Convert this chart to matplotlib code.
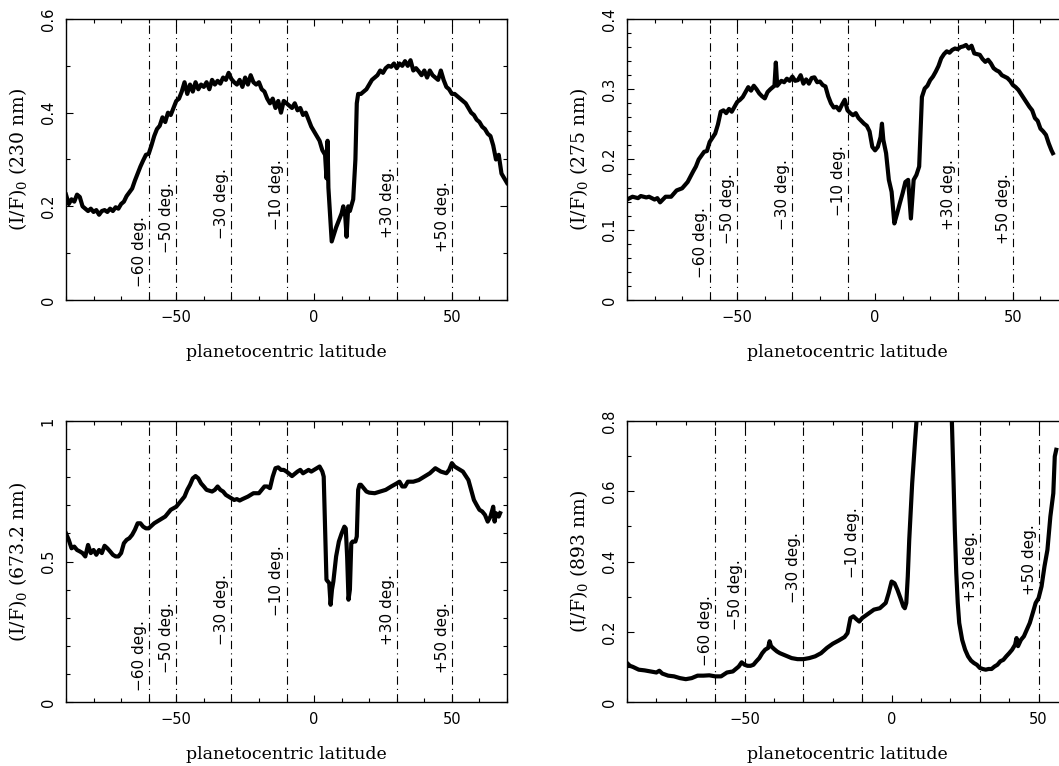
import numpy as np
import matplotlib
matplotlib.use("Agg")
import matplotlib.pyplot as plt
from matplotlib.ticker import MultipleLocator, FuncFormatter
from matplotlib.transforms import offset_copy

plt.rcParams['font.family'] = ['DejaVu Sans']
plt.rcParams['mathtext.fontset'] = 'dejavuserif'
plt.rcParams['lines.scale_dashes'] = False

# latitudes of the dash-dot reference lines and their labels
ref_lat = [-60, -50, -30, -10, 30, 50]
ref_txt = ['\u221260 deg.', '\u221250 deg.', '\u221230 deg.', '\u221210 deg.', '+30 deg.', '+50 deg.']

# 230 nm
lat1 = [-90, -89, -88, -87, -86, -85, -84, -83, -82, -81, -80, -79, -78, -77, -76, -75, -74, -73, -72, -71,
        -70, -69, -68, -67, -66, -65, -64, -63, -62, -61, -60, -59, -58, -57, -56, -55, -54, -53, -52, -51,
        -50, -49, -48, -47, -46, -45, -44, -43, -42, -41, -40, -39, -38, -37, -36, -35, -34, -33, -32, -31,
        -30, -29, -28, -27, -26, -25, -24, -23, -22, -21, -20, -19, -18, -17, -16, -15, -14, -13, -12, -11,
        -10, -9, -8, -7, -6, -5, -4, -3, -2, -1, 0, 1, 2, 3, 4, 4.5, 4.9, 5.2, 6.4, 8, 9, 10, 10.6, 11.3,
        11.8, 12.4, 13, 14.2, 15, 15.5, 16, 17, 18, 19, 20, 21, 22, 23, 24, 25, 26, 27, 28, 29, 30, 31, 32,
        33, 34, 35, 36, 37, 38, 39, 40, 41, 42, 43, 44, 45, 46, 47, 48, 49, 50, 51, 52, 53, 54, 55, 56, 57,
        58, 59, 60, 61, 62, 63, 64, 65, 66, 67, 68, 69, 70]
i230 = [0.225, 0.205, 0.215, 0.21, 0.225, 0.22, 0.2, 0.195, 0.19, 0.195, 0.188, 0.192, 0.182, 0.19, 0.192,
        0.188, 0.195, 0.19, 0.198, 0.195, 0.205, 0.21, 0.222, 0.23, 0.238, 0.255, 0.27, 0.285, 0.298, 0.31,
        0.312, 0.33, 0.35, 0.365, 0.372, 0.39, 0.38, 0.4, 0.395, 0.41, 0.425, 0.43, 0.445, 0.465, 0.44, 0.46,
        0.445, 0.465, 0.45, 0.46, 0.455, 0.465, 0.45, 0.47, 0.46, 0.468, 0.462, 0.475, 0.47, 0.485, 0.472,
        0.465, 0.46, 0.47, 0.455, 0.475, 0.46, 0.48, 0.465, 0.46, 0.465, 0.45, 0.445, 0.43, 0.42, 0.43, 0.41,
        0.425, 0.4, 0.425, 0.42, 0.415, 0.41, 0.42, 0.405, 0.41, 0.395, 0.4, 0.385, 0.37, 0.36, 0.35, 0.34,
        0.32, 0.31, 0.26, 0.34, 0.24, 0.125, 0.155, 0.17, 0.185, 0.2, 0.18, 0.135, 0.2, 0.19, 0.215, 0.3,
        0.42, 0.44, 0.44, 0.445, 0.45, 0.46, 0.47, 0.475, 0.48, 0.49, 0.485, 0.495, 0.5, 0.498, 0.505, 0.495,
        0.505, 0.5, 0.51, 0.5, 0.512, 0.49, 0.495, 0.488, 0.48, 0.49, 0.475, 0.49, 0.48, 0.475, 0.47, 0.49,
        0.47, 0.455, 0.45, 0.44, 0.44, 0.435, 0.43, 0.425, 0.42, 0.41, 0.4, 0.395, 0.385, 0.38, 0.37, 0.365,
        0.355, 0.35, 0.33, 0.3, 0.31, 0.27, 0.26, 0.25]

# 275 nm
lat2 = [-90, -88, -86, -85, -83, -82, -80, -79, -78, -76, -74, -72, -70, -68, -66, -65, -64, -62, -61,
        -60, -58, -57, -56, -55, -54, -53, -52, -50, -49, -48, -46, -45, -44, -43, -42, -41, -40, -39, -38,
        -36.5, -36, -35.5, -34, -33, -32, -31, -30, -29, -28, -27, -26, -25, -24, -23, -22, -21, -20, -19,
        -18, -17, -16, -15, -14, -13, -12, -11, -10, -9, -8, -7, -6, -5, -4, -3, -2, -1, 0, 1, 2, 2.5, 3, 4,
        5, 6, 7, 8, 9, 10, 11, 12, 13, 14, 15, 16, 17, 18, 19, 20, 21, 22, 23, 24, 25, 26, 27, 28, 29, 30,
        31, 32, 33, 34, 35, 36, 37, 38, 39, 40, 41, 42, 43, 44, 45, 46, 47, 48, 49, 50, 51, 52, 53, 54, 55,
        56, 57, 58, 59, 60, 61, 62, 63, 64, 64.5]
i275 = [0.143, 0.147, 0.145, 0.148, 0.146, 0.147, 0.143, 0.145, 0.139, 0.147, 0.147, 0.156, 0.159, 0.168,
        0.183, 0.19, 0.2, 0.211, 0.212, 0.225, 0.237, 0.25, 0.268, 0.27, 0.266, 0.272, 0.268, 0.282, 0.285,
        0.289, 0.303, 0.298, 0.305, 0.3, 0.294, 0.29, 0.287, 0.296, 0.3, 0.305, 0.338, 0.305, 0.312, 0.31,
        0.315, 0.312, 0.318, 0.312, 0.313, 0.32, 0.308, 0.314, 0.308, 0.316, 0.317, 0.31, 0.311, 0.306,
        0.304, 0.29, 0.28, 0.274, 0.275, 0.27, 0.278, 0.285, 0.27, 0.266, 0.263, 0.266, 0.259, 0.255, 0.251,
        0.248, 0.24, 0.218, 0.213, 0.218, 0.232, 0.251, 0.228, 0.209, 0.171, 0.154, 0.109, 0.123, 0.138,
        0.152, 0.168, 0.171, 0.116, 0.171, 0.178, 0.19, 0.289, 0.301, 0.305, 0.313, 0.318, 0.325, 0.333,
        0.344, 0.35, 0.354, 0.352, 0.356, 0.358, 0.357, 0.36, 0.361, 0.363, 0.358, 0.362, 0.351, 0.35, 0.349,
        0.343, 0.339, 0.342, 0.337, 0.33, 0.327, 0.325, 0.32, 0.318, 0.316, 0.312, 0.306, 0.303, 0.299,
        0.293, 0.287, 0.281, 0.275, 0.27, 0.259, 0.255, 0.244, 0.24, 0.235, 0.223, 0.213, 0.209]

# 673.2 nm
lat3 = [-90, -89, -88, -87, -86, -85, -84, -83, -82, -81, -80, -79, -78, -77, -76, -75, -74, -73, -72, -71,
        -70, -69, -68, -67, -66, -65, -64, -63, -62, -61, -60, -58, -56, -54, -52, -50, -48, -47, -46, -45,
        -44, -43, -42, -41, -40, -39, -38, -37, -36, -35, -34, -33, -32, -31, -30, -29, -28, -27, -26, -24,
        -22, -20, -19, -18, -17, -16, -15, -14, -13, -12, -11, -10, -9, -8, -7, -6, -5, -4, -3, -2, -1, 0,
        1, 2, 3, 3.5, 4, 4.5, 5, 5.5, 6, 6.5, 7, 8, 9, 10, 11, 11.5, 12, 12.5, 13, 13.5, 14, 15, 15.5, 16,
        16.5, 17, 18, 19, 20, 22, 24, 26, 28, 30, 31, 32, 33, 34, 36, 38, 40, 42, 44, 46, 48, 49, 50, 51, 52,
        54, 56, 57, 58, 59, 60, 61, 62, 63, 64, 65, 65.5, 66, 67, 67.5]
i673 = [0.6, 0.577, 0.547, 0.553, 0.541, 0.536, 0.53, 0.518, 0.559, 0.53, 0.541, 0.524, 0.541, 0.53,
        0.556, 0.547, 0.536, 0.524, 0.518, 0.518, 0.53, 0.565, 0.577, 0.583, 0.595, 0.613, 0.636, 0.636,
        0.624, 0.618, 0.618, 0.636, 0.648, 0.66, 0.684, 0.695, 0.719, 0.731, 0.755, 0.773, 0.796, 0.804,
        0.796, 0.778, 0.767, 0.755, 0.752, 0.749, 0.755, 0.767, 0.755, 0.749, 0.737, 0.731, 0.725, 0.719,
        0.722, 0.717, 0.722, 0.731, 0.743, 0.743, 0.755, 0.767, 0.767, 0.761, 0.802, 0.832, 0.835, 0.826,
        0.826, 0.82, 0.812, 0.804, 0.812, 0.82, 0.826, 0.814, 0.82, 0.826, 0.82, 0.826, 0.832, 0.838, 0.82,
        0.802, 0.613, 0.435, 0.429, 0.423, 0.346, 0.4, 0.429, 0.518, 0.571, 0.6, 0.624, 0.618, 0.518, 0.364,
        0.4, 0.565, 0.571, 0.571, 0.589, 0.755, 0.773, 0.773, 0.761, 0.749, 0.745, 0.743, 0.749, 0.755,
        0.767, 0.778, 0.784, 0.767, 0.767, 0.784, 0.784, 0.79, 0.802, 0.814, 0.832, 0.82, 0.814, 0.826, 0.85,
        0.838, 0.832, 0.82, 0.79, 0.755, 0.719, 0.701, 0.684, 0.678, 0.666, 0.642, 0.66, 0.695, 0.642, 0.672,
        0.66, 0.672]

# 893 nm (the equatorial peak runs off the top of the axes)
lat4 = [-90, -89, -88, -86, -84, -82, -80, -79, -78, -76, -74, -72, -70, -68, -66, -64, -62, -60, -58,
        -56, -54, -52, -51, -50, -49, -48, -47, -46, -45, -44, -43, -42, -41.5, -41, -40, -39, -38, -36,
        -34, -32, -30, -28, -26, -24, -22, -20, -18, -16, -15, -14, -13, -12, -11, -10, -8, -6, -4, -2, -1,
        0, 1, 2, 3, 4, 4.5, 5, 5.5, 6, 7, 8, 8.5, 9, 20, 20.5, 21, 21.5, 22, 22.5, 23, 24, 25, 26, 27, 28,
        29, 30, 31, 32, 33, 34, 35, 36, 37, 38, 39, 40, 41, 42, 42.5, 43, 44, 45, 46, 47, 48, 49, 50, 51, 52,
        53, 54, 55, 55.5, 56]
i893 = [0.111, 0.103, 0.1, 0.092, 0.09, 0.087, 0.084, 0.089, 0.081, 0.075, 0.073, 0.068, 0.065, 0.068,
        0.075, 0.075, 0.076, 0.073, 0.073, 0.084, 0.087, 0.101, 0.113, 0.106, 0.103, 0.103, 0.106, 0.116,
        0.125, 0.139, 0.149, 0.154, 0.173, 0.159, 0.151, 0.144, 0.139, 0.132, 0.125, 0.122, 0.122, 0.125,
        0.13, 0.139, 0.154, 0.166, 0.175, 0.185, 0.196, 0.239, 0.244, 0.236, 0.229, 0.239, 0.251, 0.263,
        0.267, 0.282, 0.31, 0.343, 0.338, 0.319, 0.296, 0.272, 0.267, 0.282, 0.357, 0.462, 0.623, 0.746,
        0.803, 0.9, 0.9, 0.8, 0.651, 0.49, 0.367, 0.282, 0.225, 0.177, 0.149, 0.13, 0.118, 0.111, 0.106,
        0.097, 0.094, 0.092, 0.094, 0.094, 0.101, 0.106, 0.116, 0.12, 0.13, 0.139, 0.149, 0.163, 0.182,
        0.159, 0.177, 0.187, 0.206, 0.225, 0.253, 0.282, 0.296, 0.329, 0.386, 0.433, 0.528, 0.594, 0.699,
        0.718]

panels = [
    dict(lat=lat1, val=i230, name='(I/F)$_0$ (230 nm)', ylim=0.6, ymaj=0.2, ymin=0.1, xmax=70,
         lab_y=[0.028, 0.1, 0.13, 0.15, 0.132, 0.102], pos=[66, 19]),
    dict(lat=lat2, val=i275, name='(I/F)$_0$ (275 nm)', ylim=0.4, ymaj=0.1, ymin=0.02, xmax=70,
         lab_y=[0.031, 0.08, 0.1, 0.12, 0.1, 0.08], pos=[627, 19]),
    dict(lat=lat3, val=i673, name='(I/F)$_0$ (673.2 nm)', ylim=1.0, ymaj=0.5, ymin=0.1, xmax=70,
         lab_y=[0.038, 0.103, 0.204, 0.305, 0.204, 0.103], pos=[66, 421]),
    dict(lat=lat4, val=i893, name='(I/F)$_0$ (893 nm)', ylim=0.8, ymaj=0.2, ymin=0.1, xmax=60,
         lab_y=[0.103, 0.204, 0.282, 0.352, 0.286, 0.304], pos=[627, 421]),
]

W, H = 1059, 766
AW, AH = 441, 281
fig = plt.figure(figsize=(W / 100, H / 100), dpi=100)

for p in panels:
    left, top = p['pos']
    ax = fig.add_axes([left / W, (H - top - AH) / H, AW / W, AH / H])
    ax.plot(p['lat'], p['val'], color='black', lw=3.0, solid_joinstyle='round')
    for lx, txt, ly in zip(ref_lat, ref_txt, p['lab_y']):
        ax.axvline(lx, color='black', lw=0.8, dashes=(6, 3, 0.8, 3))
        ax.text(lx, ly, txt, rotation=90, ha='right', va='bottom', fontsize=11,
                transform=offset_copy(ax.transData, fig=fig, x=-2, units='dots'))
    ax.set_xlim(-90, p['xmax'])
    ax.set_ylim(0, p['ylim'])
    ax.xaxis.set_major_locator(MultipleLocator(50))
    ax.xaxis.set_minor_locator(MultipleLocator(10))
    ax.yaxis.set_major_locator(MultipleLocator(p['ymaj']))
    ax.yaxis.set_minor_locator(MultipleLocator(p['ymin']))
    ax.yaxis.set_major_formatter(FuncFormatter(lambda v, pos: '%g' % round(v, 3)))
    ax.tick_params(which='both', direction='in', top=True, right=True, width=0.8, labelsize=10.5)
    ax.tick_params(which='major', length=5)
    ax.tick_params(which='minor', length=3)
    ax.tick_params(axis='x', pad=7)
    ax.tick_params(axis='y', pad=7.5, labelrotation=90)
    for t in ax.get_yticklabels():
        t.set_va('center')
    for s in ax.spines.values():
        s.set_linewidth(1.0)
    ax.set_xlabel('planetocentric latitude', family='DejaVu Serif', fontsize=12.5)
    ax.set_ylabel(p['name'], family='DejaVu Serif', fontsize=13.5)
    ax.xaxis.set_label_coords(0.5, -44 / AH)
    ax.yaxis.set_label_coords(-37 / AW, 0.5)

fig.savefig('out.png', dpi=100)
